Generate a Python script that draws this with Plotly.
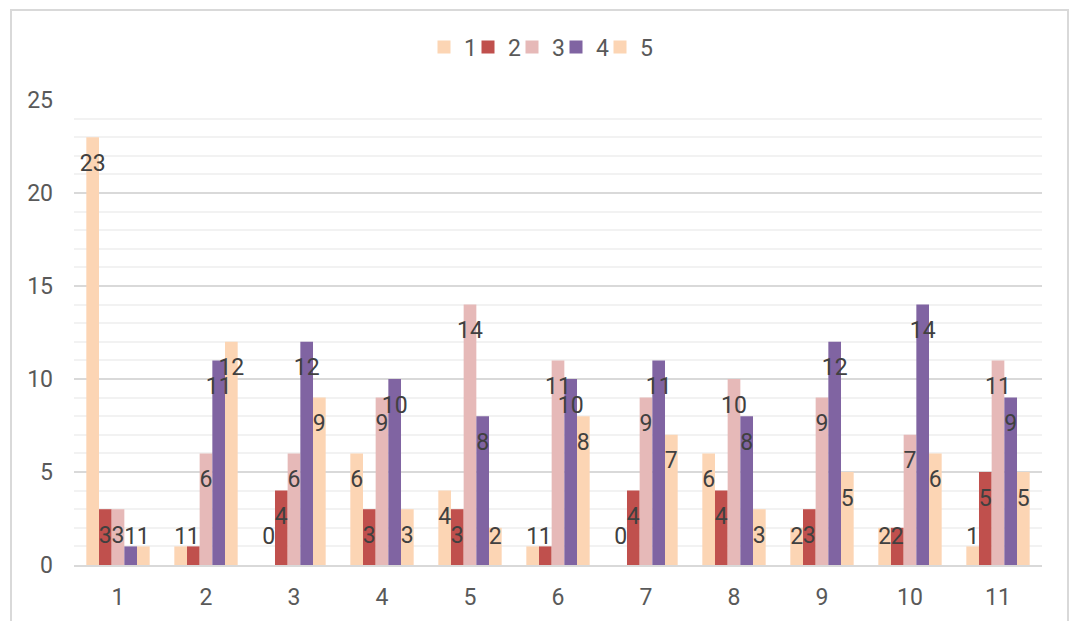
import plotly.graph_objects as go

categories = [1, 2, 3, 4, 5, 6, 7, 8, 9, 10, 11]
series_names = ["1", "2", "3", "4", "5"]
s1 = [23, 1, 0, 6, 4, 1, 0, 6, 2, 2, 1]
s2 = [3, 1, 4, 3, 3, 1, 4, 4, 3, 2, 5]
s3 = [3, 6, 6, 9, 14, 11, 9, 10, 9, 7, 11]
s4 = [1, 11, 12, 10, 8, 10, 11, 8, 12, 14, 9]
s5 = [1, 12, 9, 3, 2, 8, 7, 3, 5, 6, 5]
series_values = [s1, s2, s3, s4, s5]
colors = ["#FCD5B4", "#C0504D", "#E6B9B8", "#8064A2", "#FCD5B4"]

FONT = "Roboto, sans-serif"
W, H = 1069, 621
ML, MR, MT, MB = 74, 27, 100, 56
bargap = 0.28
bw = (1 - bargap) / len(series_names)
pw = W - ML - MR
ph = H - MT - MB

fig = go.Figure()
for name, vals, col in zip(series_names, series_values, colors):
    fig.add_trace(go.Bar(x=categories, y=vals, name=name, marker=dict(color=col, line=dict(width=0)),
                         hoverinfo="x+y", showlegend=False))

# data labels (inside end, Excel style)
for k, vals in enumerate(series_values):
    xs = [c + (k - 2) * bw for c in categories]
    ys = [max(v - 1.5, 1.45) for v in vals]
    fig.add_trace(go.Scatter(x=xs, y=ys, mode="text", text=[str(v) for v in vals],
                             textposition="middle center",
                             textfont=dict(family=FONT, size=23, color="#404040"),
                             showlegend=False, hoverinfo="skip"))

# legend entries, one legend per series
legend_layouts = {}
for k, (name, col) in enumerate(zip(series_names, colors)):
    lname = "legend" if k == 0 else f"legend{k + 1}"
    fig.add_trace(go.Scatter(x=[None], y=[None], mode="markers", name=name,
                             marker=dict(symbol="square", size=13, color=col),
                             legend=lname, showlegend=True, hoverinfo="skip"))
    marker_cx = 444 + 44 * k
    legend_layouts[lname] = dict(
        x=(marker_cx - 20 - ML) / pw, xanchor="left",
        y=1 + (MT - 47) / ph, yanchor="middle",
        orientation="h", itemwidth=30, borderwidth=0, bgcolor="rgba(0,0,0,0)",
        font=dict(family=FONT, size=23, color="#595959"))

fig.update_layout(
    width=W, height=H,
    margin=dict(l=ML, r=MR, t=MT, b=MB, pad=0, autoexpand=False),
    paper_bgcolor="white", plot_bgcolor="white",
    barmode="group", bargap=bargap, bargroupgap=0,
    font=dict(family=FONT, size=23, color="#595959"),
    xaxis=dict(tickmode="array", tickvals=categories, ticktext=[str(c) for c in categories],
               range=[0.5, 11.5], showgrid=False, zeroline=False, showline=True,
               linecolor="#D9D9D9", linewidth=2, ticks="", ticklen=0, automargin=False,
               ticklabelstandoff=10,
               tickfont=dict(family=FONT, size=23, color="#595959")),
    yaxis=dict(range=[0, 25], dtick=5, tick0=0, showgrid=True, gridcolor="#D9D9D9", gridwidth=2,
               zeroline=False, showline=False, ticks="", automargin=False,
               ticklabelstandoff=20,
               tickfont=dict(family=FONT, size=23, color="#595959"),
               minor=dict(dtick=1, tick0=0, showgrid=True, gridcolor="#F2F2F2", gridwidth=2)),
    shapes=[dict(type="rect", xref="paper", yref="paper",
                 x0=(11 - ML) / pw, x1=(1068 - ML) / pw,
                 y0=(H - MB - 640) / ph, y1=(H - MB - 10) / ph,
                 line=dict(color="#D9D9D9", width=2), fillcolor="rgba(0,0,0,0)", layer="below")],
    **legend_layouts,
)

fig.write_html("out.html", config={"displayModeBar": False},
               post_script="document.body.style.margin='0';document.body.style.padding='0';")
